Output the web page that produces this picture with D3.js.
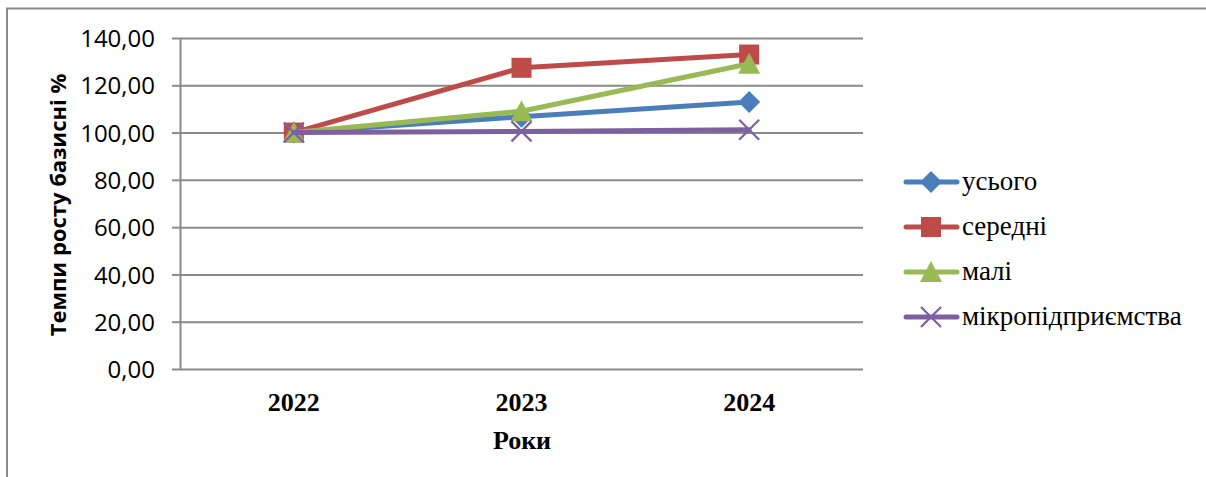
<!DOCTYPE html>
<html><head><meta charset="utf-8">
<script src="https://cdn.jsdelivr.net/npm/d3@7"></script>
<style>body{margin:0;background:#fff}svg{display:block}
.serif{font-family:"Liberation Serif","Times New Roman",Times,serif}
</style>
</head><body><svg id="c" width="1206" height="477"></svg>
<script>
const categories = ["2022", "2023", "2024"];
const seriesNames = ["усього", "середні", "малі", "мікропідприємства"];
const usogo = [100, 106.7, 112.9];
const seredni = [100, 127.4, 133.0];
const mali = [100, 109.0, 129.1];
const mikro = [100, 100.5, 101.2];
const yTicks = [0, 20, 40, 60, 80, 100, 120, 140];
const colors = ["#4A7EBB", "#BE4B48", "#98B954", "#7D60A0"];
const markers = ["diamond", "square", "triangle", "x"];
const seriesValues = [usogo, seredni, mali, mikro];

const svg = d3.select("#c");
const L = 180, R = 863, T = 38, B = 369;
const x = d3.scaleBand().domain(categories).range([L, R]).paddingInner(0).paddingOuter(0);
const y = d3.scaleLinear().domain([0, 140]).range([B, T]);
const grid = "#8a8a8a";

// outer frame (cropped at right and bottom)
svg.append("path").attr("d", "M7,477 L7,8.5 L1206,8.5").attr("fill", "none").attr("stroke", grid).attr("stroke-width", 2);

// gridlines + y axis
const yAxis = d3.axisLeft(y).tickValues(yTicks).tickSize(8).tickSizeOuter(0)
  .tickFormat(d => d3.format(".2f")(d).replace(".", ","));
const gy = svg.append("g").attr("transform", `translate(${L},0)`).call(yAxis);
gy.select(".domain").attr("stroke", grid).attr("stroke-width", 2);
gy.selectAll(".tick line").attr("stroke", grid).attr("stroke-width", 2);
gy.selectAll(".tick text").attr("x", -25).attr("dy", "0.36em").attr("fill", "#000")
  .attr("font-family", "'Open Sans', sans-serif").attr("font-size", "24px");
gy.selectAll(".tick").append("line").attr("x1", 0).attr("x2", R - L).attr("stroke", grid).attr("stroke-width", 2);

// x axis labels
const xAxis = d3.axisBottom(x).tickSize(0).tickSizeOuter(0);
const gx = svg.append("g").attr("transform", `translate(0,${B})`).call(xAxis);
gx.select(".domain").remove();
gx.selectAll(".tick text").attr("y", 0).attr("dy", "1.6em").attr("fill", "#000")
  .attr("font-family", null).attr("class", "serif").attr("font-weight", "bold").attr("font-size", "26px");

// axis titles
svg.append("text").attr("x", 522).attr("y", 449).attr("text-anchor", "middle").attr("class", "serif")
  .attr("font-weight", "bold").attr("font-size", "26px").text("Роки");
svg.append("text").attr("transform", "translate(66,205) rotate(-90)").attr("text-anchor", "middle")
  .attr("font-family", "'Open Sans', sans-serif").attr("font-weight", "bold").attr("font-size", "22px").text("Темпи росту базисні %");

function drawMarker(g, type, cx, cy, color) {
  if (type === "diamond") {
    g.append("path").attr("d", `M${cx},${cy-11} L${cx+11},${cy} L${cx},${cy+11} L${cx-11},${cy} Z`).attr("fill", color);
  } else if (type === "square") {
    g.append("rect").attr("x", cx - 10).attr("y", cy - 10).attr("width", 20).attr("height", 20).attr("fill", color);
  } else if (type === "triangle") {
    g.append("path").attr("d", `M${cx},${cy-11} L${cx+11},${cy+10} L${cx-11},${cy+10} Z`).attr("fill", color);
  } else {
    g.append("path").attr("d", `M${cx-10},${cy-10} L${cx+10},${cy+10} M${cx+10},${cy-10} L${cx-10},${cy+10}`)
      .attr("stroke", color).attr("stroke-width", 2.2).attr("fill", "none");
  }
}

const line = d3.line().x((d, i) => x(categories[i]) + x.bandwidth() / 2).y(d => y(d));
seriesValues.forEach((vals, s) => {
  const g = svg.append("g");
  g.append("path").attr("d", line(vals)).attr("fill", "none").attr("stroke", colors[s])
    .attr("stroke-width", 5).attr("stroke-linejoin", "round").attr("stroke-linecap", "round");
  vals.forEach((v, i) => drawMarker(g, markers[s], x(categories[i]) + x.bandwidth() / 2, y(v), colors[s]));
});

// legend
const legY = [182, 227, 272, 317];
seriesNames.forEach((n, s) => {
  const g = svg.append("g");
  g.append("line").attr("x1", 906).attr("x2", 957).attr("y1", legY[s]).attr("y2", legY[s])
    .attr("stroke", colors[s]).attr("stroke-width", 5).attr("stroke-linecap", "round");
  drawMarker(g, markers[s], 931, legY[s], colors[s]);
  g.append("text").attr("x", 962).attr("y", legY[s]).attr("dy", "0.3em").attr("class", "serif")
    .attr("font-size", "27px").attr("fill", "#000").text(n);
});
</script></body></html>
